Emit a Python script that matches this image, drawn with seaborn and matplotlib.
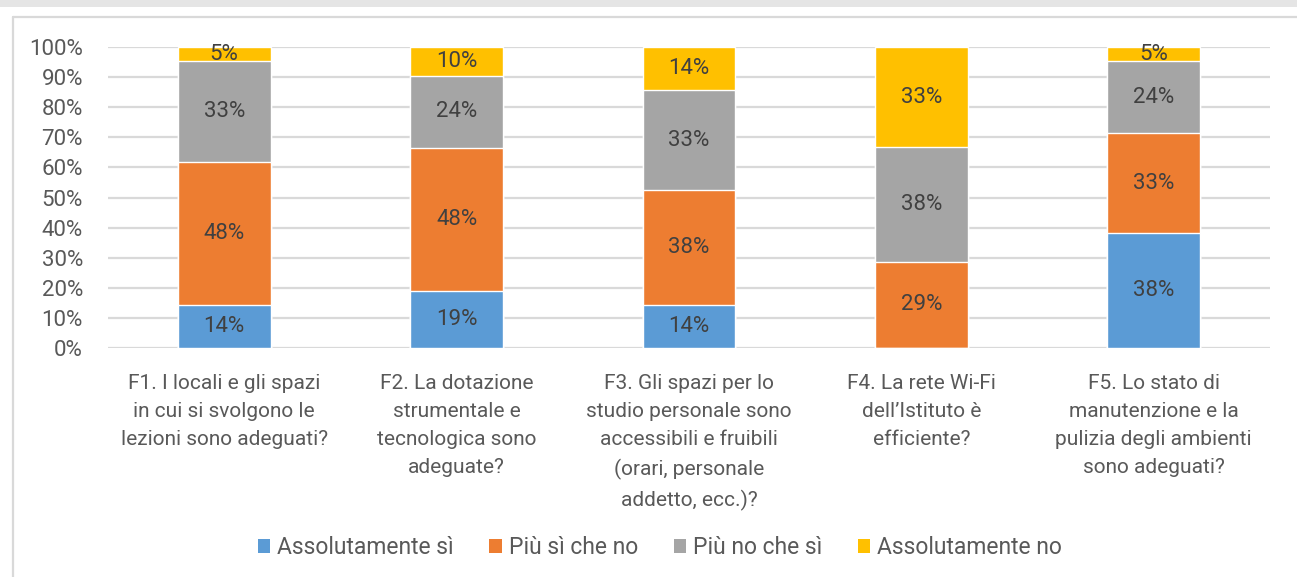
import matplotlib
matplotlib.use("Agg")
import matplotlib.pyplot as plt
import seaborn as sns
import numpy as np
from matplotlib.patches import Rectangle, Patch
from matplotlib.lines import Line2D

categories = [
    "F1. I locali e gli spazi\nin cui si svolgono le\nlezioni sono adeguati?",
    "F2. La dotazione\nstrumentale e\ntecnologica sono\nadeguate?",
    "F3. Gli spazi per lo\nstudio personale sono\naccessibili e fruibili\n(orari, personale\naddetto, ecc.)?",
    "F4. La rete Wi-Fi\ndell\u2019Istituto è\nefficiente?",
    "F5. Lo stato di\nmanutenzione e la\npulizia degli ambienti\nsono adeguati?",
]
series_names = ["Assolutamente sì", "Più sì che no", "Più no che sì", "Assolutamente no"]
assolutamente_si = [14.3, 19.0, 14.3, 0.0, 38.1]
piu_si_che_no = [47.6, 47.6, 38.1, 28.6, 33.3]
piu_no_che_si = [33.3, 23.8, 33.3, 38.1, 23.8]
assolutamente_no = [4.8, 9.5, 14.3, 33.3, 4.8]
colors = ["#5B9BD5", "#ED7D31", "#A5A5A5", "#FFC000"]

sns.set_theme(style="white")
plt.rcParams["font.family"] = ["Roboto", "DejaVu Sans"]

W, H = 1297, 577
fig = plt.figure(figsize=(W / 100, H / 100), dpi=100)
ax = fig.add_axes([108 / W, 229 / H, 1162 / W, 301 / H])

series = [assolutamente_si, piu_si_che_no, piu_no_che_si, assolutamente_no]
cum = np.cumsum(series, axis=0)

# stacked bars: draw the tallest cumulative first
for i in range(3, -1, -1):
    sns.barplot(x=categories, y=cum[i], color=colors[i], width=0.4,
                saturation=1, ax=ax, zorder=2)

for i, vals in enumerate(series):
    for j, v in enumerate(vals):
        if v > 0:
            ax.text(j, cum[i][j] - v / 2, f"{round(v)}%", ha="center", va="center",
                    fontsize=16, color="#404040", zorder=3)

ax.set_ylim(0, 100)
ax.set_xlim(-0.5, 4.5)
yt = list(range(0, 101, 10))
ax.set_yticks(yt)
ax.set_yticklabels([f"{t}%" for t in yt])
ax.set_axisbelow(True)
ax.yaxis.grid(True, color="#d9d9d9", lw=1.6)
for s in ax.spines.values():
    s.set_visible(False)
ax.tick_params(axis="y", length=0, pad=18, labelsize=16, labelcolor="#595959")
ax.tick_params(axis="x", length=0, pad=19, labelsize=15, labelcolor="#595959")
for lab in ax.get_xticklabels():
    lab.set_linespacing(1.6)
ax.set_xlabel("")
ax.set_ylabel("")

handles = [Patch(facecolor=c, edgecolor="none") for c in colors]
fig.legend(handles, series_names, loc="center", bbox_to_anchor=(660 / W, 1 - 548 / H),
           ncol=4, frameon=False, fontsize=16.5, handlelength=0.55, handleheight=0.55,
           handletextpad=0.3, columnspacing=1.55, labelcolor="#595959")

# outer frame of the chart area
fig.add_artist(Rectangle((0, 1 - 7 / H), 1, 7 / H, transform=fig.transFigure,
                         facecolor="#e5e5e5", edgecolor="none"))
fig.add_artist(Line2D([13 / W, 1], [1 - 17 / H, 1 - 17 / H], transform=fig.transFigure,
                      color="#d9d9d9", lw=1.6))
fig.add_artist(Line2D([13 / W, 13 / W], [0, 1 - 17 / H], transform=fig.transFigure,
                      color="#d9d9d9", lw=1.6))

fig.savefig("out.png", dpi=100)
